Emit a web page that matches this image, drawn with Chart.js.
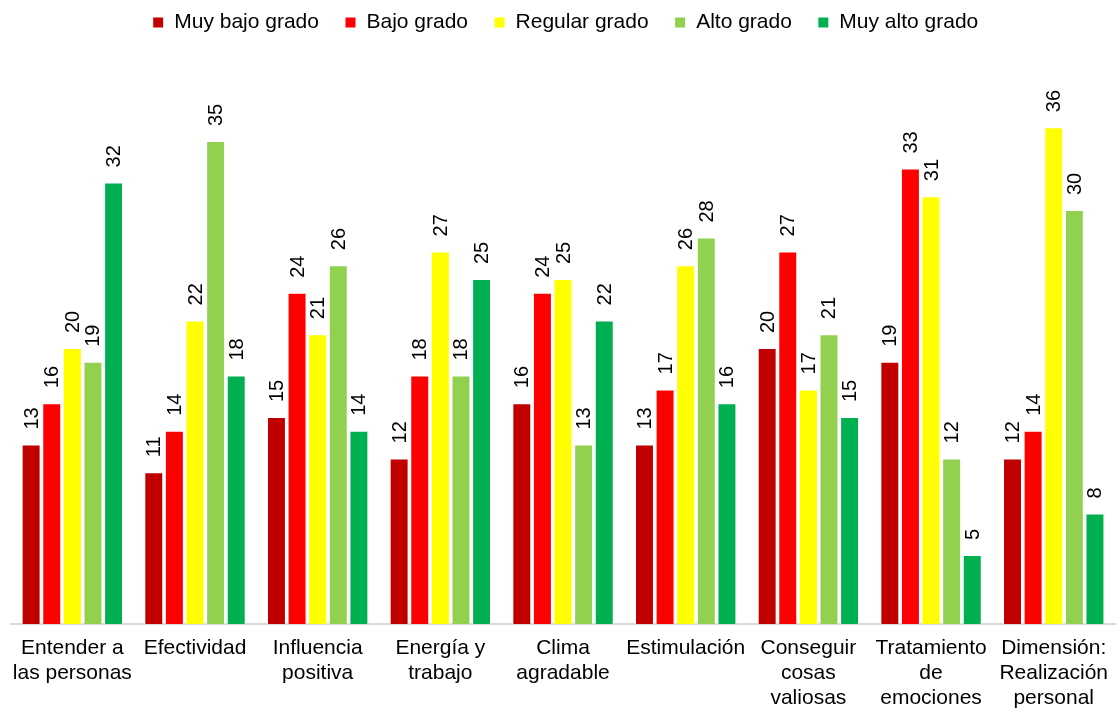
<!DOCTYPE html>
<html>
<head>
<meta charset="utf-8">
<script src="https://cdn.jsdelivr.net/npm/chart.js@4/dist/chart.umd.min.js"></script>
<style>
    html, body { margin: 0; padding: 0; background: #fff; }
    #wrap { width: 1120px; height: 710px; }
</style>
</head>
<body>
<div id="wrap"><canvas id="chart"></canvas></div>
<script>
const categories = [
    ['Entender a', 'las personas'],
    ['Efectividad'],
    ['Influencia', 'positiva'],
    ['Energía y', 'trabajo'],
    ['Clima', 'agradable'],
    ['Estimulación'],
    ['Conseguir', 'cosas', 'valiosas'],
    ['Tratamiento', 'de', 'emociones'],
    ['Dimensión:', 'Realización', 'personal']
];
const seriesNames = ['Muy bajo grado', 'Bajo grado', 'Regular grado', 'Alto grado', 'Muy alto grado'];
const muyBajo = [13, 11, 15, 12, 16, 13, 20, 19, 12];
const bajo = [16, 14, 24, 18, 24, 17, 27, 33, 14];
const regular = [20, 22, 21, 27, 25, 26, 17, 31, 36];
const alto = [19, 35, 26, 18, 13, 28, 21, 12, 30];
const muyAlto = [32, 18, 14, 25, 22, 16, 15, 5, 8];
const colors = ['#C00000', '#FF0000', '#FFFF00', '#92D050', '#00B050'];

const FONT = 'Liberation Sans, Arial, sans-serif';
const PLOT_TOP = 72;

// legend sits high, chart area starts at PLOT_TOP
const legendSpacing = {
    id: 'legendSpacing',
    beforeInit(chart) {
        const fit = chart.legend.fit;
        chart.legend.fit = function () {
            fit.bind(chart.legend)();
            this.height = PLOT_TOP + 14;
        };
    }
};

const valueLabels = {
    id: 'valueLabels',
    afterDatasetsDraw(chart) {
        const c = chart.ctx;
        c.save();
        c.font = '20px ' + FONT;
        c.fillStyle = '#000';
        c.textAlign = 'left';
        c.textBaseline = 'middle';
        chart.data.datasets.forEach((ds, i) => {
            chart.getDatasetMeta(i).data.forEach((bar, j) => {
                c.save();
                c.translate(bar.x, bar.y - 15);
                c.rotate(-Math.PI / 2);
                c.fillText(ds.data[j], 0, 1);
                c.restore();
            });
        });
        c.restore();
    }
};

const seriesData = [muyBajo, bajo, regular, alto, muyAlto];

new Chart(document.getElementById('chart'), {
    type: 'bar',
    data: {
        labels: categories,
        datasets: seriesNames.map((name, i) => ({
            label: name,
            data: seriesData[i],
            backgroundColor: colors[i],
            borderColor: '#ffffff',
            borderWidth: 1,
            categoryPercentage: 0.84,
            barPercentage: 0.92
        }))
    },
    options: {
        responsive: true,
        maintainAspectRatio: false,
        animation: false,
        layout: { padding: { left: 11, right: 0, top: -14, bottom: -13 } },
        plugins: {
            legend: {
                position: 'top',
                labels: {
                    boxWidth: 11,
                    boxHeight: 11,
                    padding: 26,
                    color: '#000',
                    font: { family: FONT, size: 21 }
                }
            },
            tooltip: { enabled: false }
        },
        scales: {
            x: {
                grid: { display: false, drawTicks: false },
                border: { color: '#d9d9d9', width: 2 },
                ticks: {
                    color: '#000',
                    padding: 12,
                    maxRotation: 0,
                    autoSkip: false,
                    font: { family: FONT, size: 21, lineHeight: 1.19 }
                }
            },
            y: {
                display: false,
                min: 0,
                max: 40
            }
        }
    },
    plugins: [legendSpacing, valueLabels]
});
</script>
</body>
</html>
